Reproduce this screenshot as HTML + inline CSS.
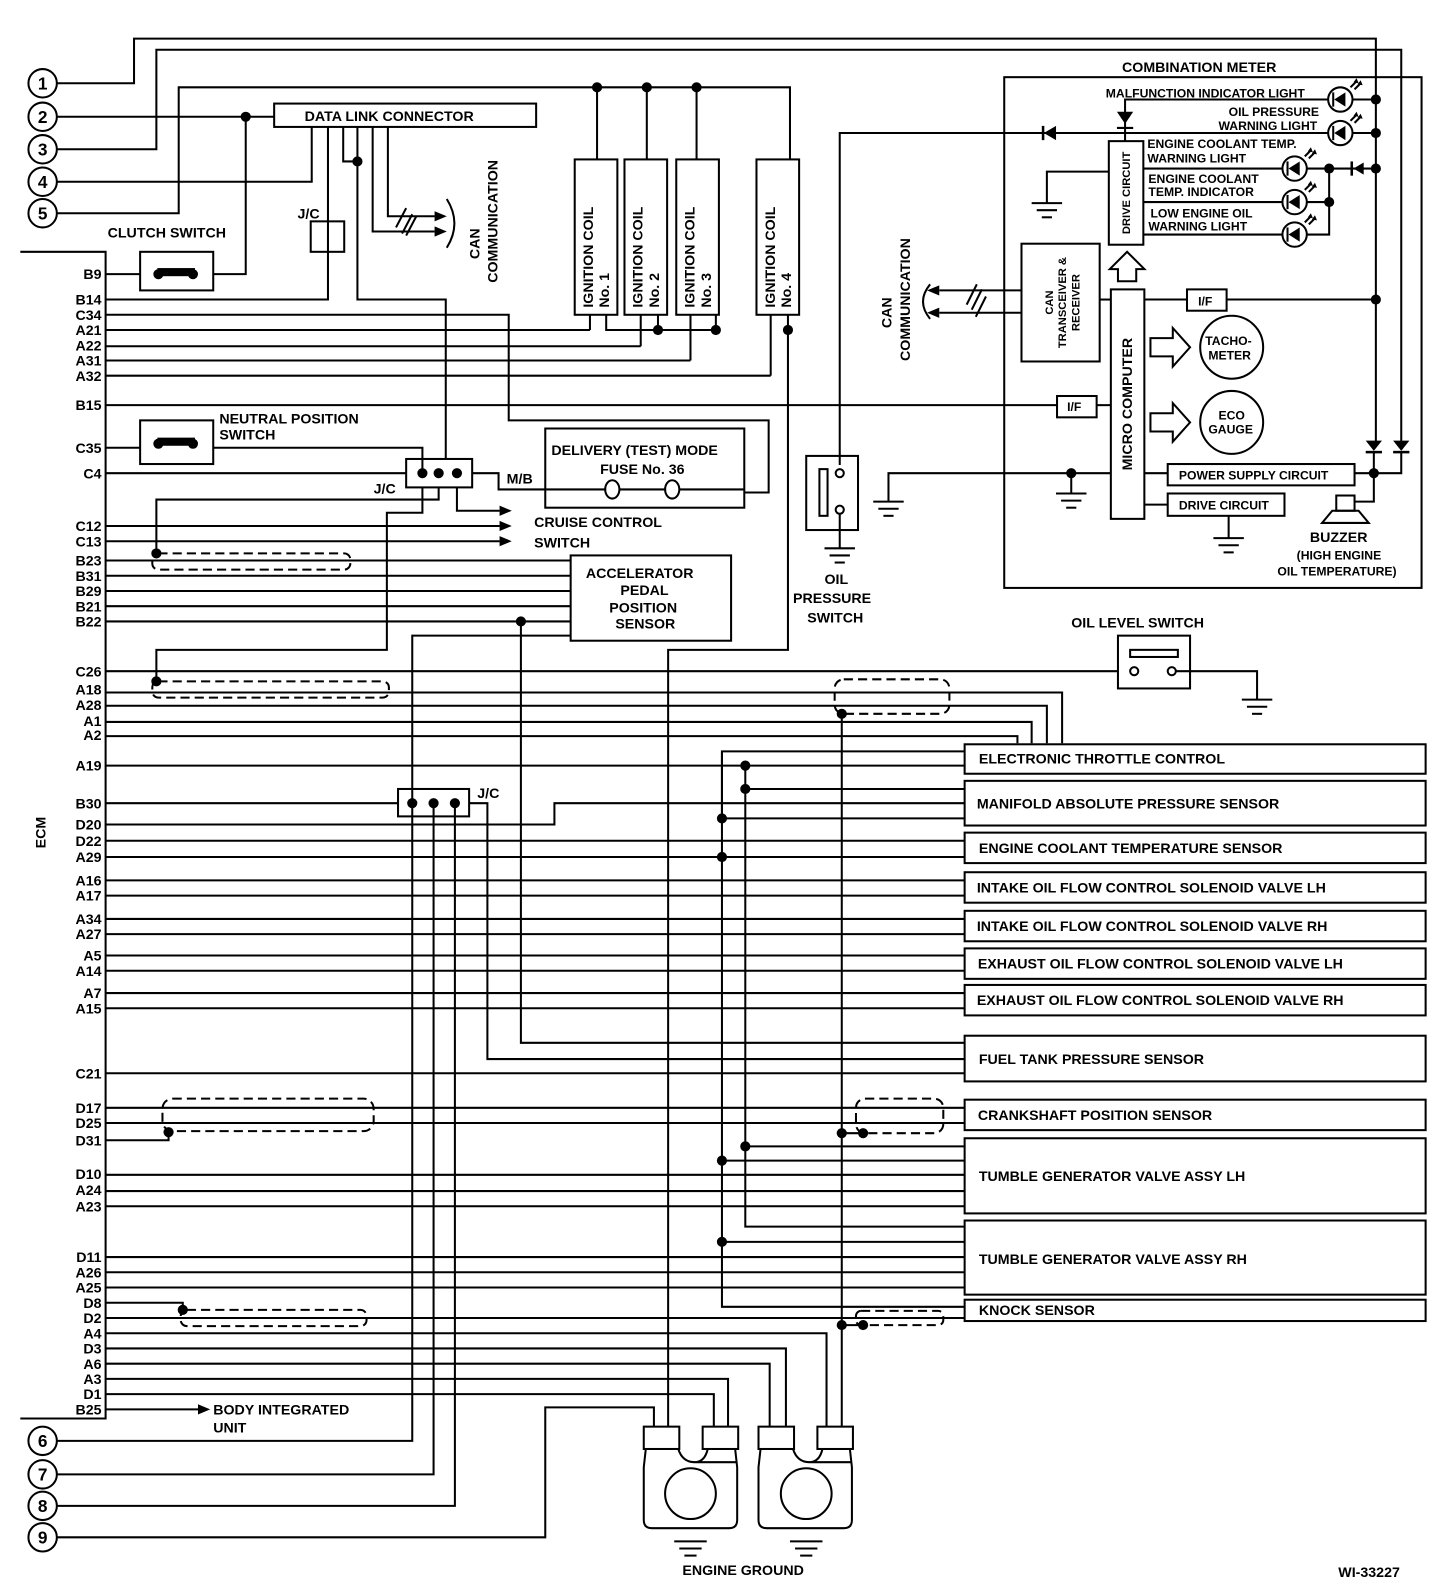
<!DOCTYPE html>
<html><head><meta charset="utf-8"><style>
html,body{margin:0;padding:0;background:#fff}
svg{display:block}
text{font-family:"Liberation Sans",Arial,sans-serif;font-weight:bold;fill:#000}
</style></head><body>
<svg width="1456" height="1592" viewBox="0 0 1456 1592" xmlns="http://www.w3.org/2000/svg">
<defs>
<g id="led">
<circle cx="0" cy="0" r="12" fill="#fff" stroke="#000" stroke-width="2"/>
<polygon points="-6,0 5,-7 5,7" fill="#000"/>
<line x1="-7" y1="-7" x2="-7" y2="7" stroke="#000" stroke-width="2"/>
<path d="M10,-12 L16,-18 M14,-10 L20,-16" stroke="#000" stroke-width="2" fill="none"/>
<polygon points="16,-21 18,-16 13,-17" fill="#000"/><polygon points="20,-19 22,-14 17,-15" fill="#000"/>
</g>
</defs>
<g transform="scale(1.0154)">
<g fill="none" stroke="#000" stroke-width="2">
<!-- top wires -->
<polyline points="56,82 132,82 132,38 1355,38 1355,440"/>
<polyline points="56,115 270,115"/>
<polyline points="242,115 242,270 210,270"/>
<polyline points="56,147 154,147 154,49 1380,49 1380,436"/>
<polyline points="56,179 307,179 307,125"/>
<polyline points="56,210 176,210 176,86 778,86 778,157"/>
<line x1="588" y1="86" x2="588" y2="157"/><line x1="637" y1="86" x2="637" y2="157"/><line x1="686" y1="86" x2="686" y2="157"/>
<!-- DLC -->
<rect x="270" y="102" width="258" height="23"/>
<polyline points="323,125 323,295 104,295"/>
<polyline points="338,125 338,159 352,159"/>
<polyline points="352,125 352,295 439,295 439,452"/>
<polyline points="367,125 367,228 428,228"/>
<polyline points="382,125 382,213 428,213"/>
<path d="M390,224 L400,205 M396,230 L406,211 M400,232 L410,213"/>
<path d="M440,196 Q455,220 440,244"/>
<rect x="306" y="218" width="33" height="30"/>
<!-- ECM -->
<polyline points="20,248 104,248 104,1397 20,1397"/>
<!-- ignition coils -->
<rect x="566" y="157" width="42" height="153"/><rect x="615" y="157" width="42" height="153"/>
<rect x="666" y="157" width="42" height="153"/><rect x="745" y="157" width="42" height="153"/>
<polyline points="581,310 581,325"/><polyline points="597,310 597,325 705,325"/>
<polyline points="631,310 631,341"/><polyline points="648,310 648,325"/>
<polyline points="680,310 680,355"/><polyline points="705,310 705,325"/>
<polyline points="759,310 759,370"/><polyline points="776,310 776,640 658,640 658,1405"/>
<!-- pin lines -->
<line x1="104" y1="270" x2="138" y2="270"/>
<polyline points="104,310 501,310 501,414 757,414 757,485 733,485"/>
<line x1="104" y1="325" x2="581" y2="325"/>
<line x1="104" y1="341" x2="631" y2="341"/>
<line x1="104" y1="355" x2="680" y2="355"/>
<line x1="104" y1="370" x2="759" y2="370"/>
<line x1="104" y1="399" x2="1041" y2="399"/><line x1="1080" y1="399" x2="1094" y2="399"/>
<polyline points="104,441 138,441"/><polyline points="210,441 416,441 416,466"/>
<line x1="104" y1="466" x2="400" y2="466"/>
<polyline points="465,466 491,466 491,482 597,482"/><line x1="610" y1="482" x2="656" y2="482"/><line x1="669" y1="482" x2="733" y2="482"/>
<polyline points="104,518 492,518"/><polyline points="104,533 492,533"/>
<polyline points="154,545 154,492 432,492 432,480"/>
<polyline points="450,480 450,503 492,503"/>
<polyline points="416,480 416,505 381,505 381,640 154,640 154,671"/>
<line x1="104" y1="552" x2="562" y2="552"/><line x1="104" y1="567" x2="562" y2="567"/>
<line x1="104" y1="582" x2="562" y2="582"/><line x1="104" y1="597" x2="562" y2="597"/>
<line x1="104" y1="612" x2="562" y2="612"/>
<polyline points="513,612 513,1027 950,1027"/>
<polyline points="56,1419 406,1419 406,626 562,626"/>
<line x1="104" y1="661" x2="1101" y2="661"/>
<polyline points="104,682 1046,682 1046,732"/>
<polyline points="104,695 1031,695 1031,732"/>
<polyline points="104,711 1016,711 1016,732"/>
<polyline points="104,725 1002,725 1002,732"/>
<line x1="104" y1="754" x2="950" y2="754"/>
<line x1="104" y1="791" x2="392" y2="791"/>
<polyline points="104,812 546,812 546,791 950,791"/>
<line x1="104" y1="828" x2="950" y2="828"/><line x1="104" y1="844" x2="950" y2="844"/>
<line x1="104" y1="867" x2="950" y2="867"/><line x1="104" y1="882" x2="950" y2="882"/>
<line x1="104" y1="905" x2="950" y2="905"/><line x1="104" y1="920" x2="950" y2="920"/>
<line x1="104" y1="941" x2="950" y2="941"/><line x1="104" y1="956" x2="950" y2="956"/>
<line x1="104" y1="978" x2="950" y2="978"/><line x1="104" y1="993" x2="950" y2="993"/>
<polyline points="462,791 480,791 480,1043 950,1043"/>
<line x1="104" y1="1057" x2="950" y2="1057"/>
<line x1="104" y1="1091" x2="950" y2="1091"/><line x1="104" y1="1106" x2="950" y2="1106"/>
<polyline points="104,1123 166,1123 166,1115"/>
<line x1="104" y1="1157" x2="950" y2="1157"/><line x1="104" y1="1173" x2="950" y2="1173"/>
<line x1="104" y1="1188" x2="950" y2="1188"/>
<line x1="104" y1="1238" x2="950" y2="1238"/><line x1="104" y1="1253" x2="950" y2="1253"/>
<line x1="104" y1="1268" x2="950" y2="1268"/>
<polyline points="104,1283 180,1283 180,1290"/>
<line x1="104" y1="1298" x2="950" y2="1298"/>
<polyline points="104,1313 814,1313 814,1405"/>
<polyline points="104,1328 774,1328 774,1405"/>
<polyline points="104,1343 758,1343 758,1405"/>
<polyline points="104,1358 717,1358 717,1405"/>
<polyline points="104,1373 703,1373 703,1405"/>
<line x1="104" y1="1388" x2="195" y2="1388"/>
<polyline points="56,1452 427,1452 427,791"/>
<polyline points="56,1483 448,1483 448,791"/>
<polyline points="56,1514 537,1514 537,1386 644,1386 644,1405"/>
<!-- lower verticals -->
<polyline points="711,806 711,740 950,740"/>
<polyline points="711,740 711,1287 950,1287"/>
<polyline points="734,754 734,1208 950,1208"/>
<line x1="734" y1="777" x2="950" y2="777"/>
<line x1="711" y1="806" x2="950" y2="806"/>
<polyline points="829,703 829,1405"/>
<line x1="829" y1="1116" x2="850" y2="1116"/>
<line x1="829" y1="1305" x2="850" y2="1305"/>
<line x1="734" y1="1129" x2="950" y2="1129"/><line x1="711" y1="1143" x2="950" y2="1143"/>
<line x1="711" y1="1223" x2="950" y2="1223"/>
<!-- switches -->
<rect x="138" y="248" width="72" height="38"/>
<rect x="138" y="414" width="72" height="43"/>
<rect x="400" y="452" width="65" height="28"/>
<rect x="392" y="777" width="70" height="27"/>
<rect x="537" y="422" width="196" height="78"/>
<ellipse cx="603" cy="482" rx="7" ry="9"/><ellipse cx="662" cy="482" rx="7" ry="9"/>
<rect x="562" y="547" width="158" height="84"/>
<!-- shields -->
<g stroke-dasharray="9,5">
<rect x="150" y="545" width="195" height="16" rx="6"/>
<rect x="150" y="671" width="233" height="16" rx="6"/>
<rect x="160" y="1082" width="208" height="32" rx="10"/>
<rect x="178" y="1290" width="183" height="16" rx="6"/>
<rect x="822" y="669" width="113" height="34" rx="9"/>
<rect x="843" y="1082" width="86" height="34" rx="9"/>
<rect x="843" y="1291" width="86" height="14" rx="5"/>
</g>
<!-- oil pressure switch -->
<polyline points="827,458 827,131 1310,131"/>
<rect x="794" y="449" width="51" height="73"/>
<rect x="807" y="462" width="8" height="46"/>
<circle cx="827" cy="466" r="4" fill="#fff"/><circle cx="827" cy="502" r="4" fill="#fff"/>
<line x1="827" y1="506" x2="827" y2="540"/>
<line x1="812" y1="540" x2="842" y2="540"/><line x1="817" y1="547" x2="837" y2="547"/><line x1="822" y1="554" x2="832" y2="554"/>
<polyline points="875,494 875,466 1094,466"/>
<line x1="860" y1="494" x2="890" y2="494"/><line x1="865" y1="501" x2="885" y2="501"/><line x1="870" y1="508" x2="880" y2="508"/>
<!-- oil level switch -->
<rect x="1101" y="626" width="71" height="52"/>
<rect x="1113" y="640" width="47" height="7"/>
<circle cx="1117" cy="661" r="4" fill="#fff"/><circle cx="1154" cy="661" r="4" fill="#fff"/>
<polyline points="1158,661 1238,661 1238,689"/>
<line x1="1223" y1="689" x2="1253" y2="689"/><line x1="1228" y1="696" x2="1248" y2="696"/><line x1="1233" y1="703" x2="1243" y2="703"/>
<!-- combination meter -->
<rect x="989" y="76" width="411" height="503"/>
<rect x="1092" y="139" width="34" height="102"/>
<rect x="1006" y="240" width="77" height="116"/>
<rect x="1094" y="285" width="33" height="226"/>
<rect x="1169" y="285" width="39" height="21"/>
<rect x="1041" y="390" width="39" height="21"/>
<rect x="1150" y="457" width="184" height="21"/>
<rect x="1150" y="486" width="115" height="22"/>
<circle cx="1213" cy="342" r="31"/><circle cx="1213" cy="416" r="31"/>
<polygon points="1133,333 1155,333 1155,323 1172,342 1155,361 1155,351 1133,351"/>
<polygon points="1133,407 1155,407 1155,397 1172,416 1155,435 1155,425 1133,425"/>
<polygon points="1101,277 1101,265 1093,265 1110,248 1127,265 1119,265 1119,277"/>
<line x1="1083" y1="295" x2="1094" y2="295"/>
<polyline points="1127,295 1169,295"/><polyline points="1208,295 1355,295"/>
<polyline points="1127,466 1150,466"/><polyline points="1334,466 1380,466 1380,446"/>
<polyline points="1127,497 1150,497"/>
<polyline points="1334,494 1353,494 1353,446"/>
<polyline points="1210,508 1210,530"/>
<line x1="1195" y1="530" x2="1225" y2="530"/><line x1="1200" y1="537" x2="1220" y2="537"/><line x1="1205" y1="544" x2="1215" y2="544"/>
<polyline points="1055,466 1055,486"/>
<line x1="1040" y1="486" x2="1070" y2="486"/><line x1="1045" y1="493" x2="1065" y2="493"/><line x1="1050" y1="500" x2="1060" y2="500"/>
<polyline points="1092,169 1031,169 1031,200"/>
<line x1="1016" y1="200" x2="1046" y2="200"/><line x1="1021" y1="207" x2="1041" y2="207"/><line x1="1026" y1="214" x2="1036" y2="214"/>
<polyline points="1108,139 1108,98 1308,98"/>
<line x1="1100" y1="126" x2="1116" y2="126"/>
<polyline points="1332,98 1355,98"/><polyline points="1332,131 1355,131"/>
<polyline points="1126,166 1263,166"/><polyline points="1126,199 1263,199"/><polyline points="1126,231 1263,231"/>
<polyline points="1287,166 1355,166"/><polyline points="1287,199 1309,199"/><polyline points="1287,231 1309,231 1309,166"/>
<polyline points="1006,286 925,286"/><polyline points="1006,308 925,308"/>
<path d="M916,280 Q902,297 916,314"/>
<path d="M952,300 L962,280 M957,305 L967,285 M961,312 L971,292"/>
<rect x="1316" y="488" width="18" height="15"/>
<polygon points="1302,515 1348,515 1338,503 1312,503"/>
</g>
<!-- solid shapes -->
<g fill="#000">
<polygon points="428,223 428,233 440,228"/><polygon points="428,208 428,218 440,213"/>
<polygon points="492,513 492,523 504,518"/><polygon points="492,528 492,538 504,533"/><polygon points="492,498 492,508 504,503"/>
<polygon points="195,1383 195,1393 207,1388"/>
<polygon points="925,281 925,291 913,286"/><polygon points="925,303 925,313 913,308"/>
<polygon points="1040,124 1040,138 1028,131"/><rect x="1026" y="124" width="2.5" height="14"/>
<polygon points="1100,110 1116,110 1108,122"/>
<polygon points="1343,160 1343,172 1333,166"/><rect x="1330" y="159" width="2.5" height="14"/>
<polygon points="1345,434 1361,434 1353,444"/><rect x="1345" y="444" width="16" height="2.5"/>
<polygon points="1372,434 1388,434 1380,444"/><rect x="1372" y="444" width="16" height="2.5"/>
<rect x="155" y="264" width="37" height="8"/><rect x="155" y="431" width="37" height="8"/>
</g>
<use href="#led" x="1320" y="98"/><use href="#led" x="1320" y="131"/>
<use href="#led" x="1275" y="166"/><use href="#led" x="1275" y="199"/><use href="#led" x="1275" y="231"/>
<g fill="#000">
<circle cx="242" cy="115" r="5"/><circle cx="352" cy="159" r="5"/>
<circle cx="588" cy="86" r="5"/><circle cx="637" cy="86" r="5"/><circle cx="686" cy="86" r="5"/>
<circle cx="156" cy="270" r="5"/><circle cx="190" cy="270" r="5"/>
<circle cx="156" cy="437" r="5"/><circle cx="190" cy="437" r="5"/>
<circle cx="648" cy="325" r="5"/><circle cx="705" cy="325" r="5"/><circle cx="776" cy="325" r="5"/>
<circle cx="416" cy="466" r="5"/><circle cx="432" cy="466" r="5"/><circle cx="450" cy="466" r="5"/>
<circle cx="154" cy="545" r="5"/><circle cx="154" cy="671" r="5"/><circle cx="513" cy="612" r="5"/>
<circle cx="406" cy="791" r="5"/><circle cx="427" cy="791" r="5"/><circle cx="448" cy="791" r="5"/>
<circle cx="829" cy="703" r="5"/><circle cx="734" cy="754" r="5"/><circle cx="734" cy="777" r="5"/>
<circle cx="711" cy="806" r="5"/><circle cx="711" cy="844" r="5"/><circle cx="829" cy="1116" r="5"/>
<circle cx="850" cy="1116" r="5"/><circle cx="166" cy="1115" r="5"/><circle cx="734" cy="1129" r="5"/>
<circle cx="711" cy="1143" r="5"/><circle cx="711" cy="1223" r="5"/><circle cx="829" cy="1305" r="5"/>
<circle cx="850" cy="1305" r="5"/><circle cx="180" cy="1290" r="5"/>
<circle cx="1055" cy="466" r="5"/><circle cx="1355" cy="295" r="5"/><circle cx="1355" cy="98" r="5"/>
<circle cx="1355" cy="131" r="5"/><circle cx="1355" cy="166" r="5"/><circle cx="1309" cy="166" r="5"/><circle cx="1309" cy="199" r="5"/>
<circle cx="1353" cy="466" r="5"/>
</g>
<!-- engine ground -->
<g fill="none" stroke="#000" stroke-width="2">
<path d="M636,1427 L634,1445 L634,1497 Q634,1505 642,1505 L718,1505 Q726,1505 726,1497 L726,1445 L724,1427"/>
<path d="M749,1427 L747,1445 L747,1497 Q747,1505 755,1505 L831,1505 Q839,1505 839,1497 L839,1445 L837,1427"/>
<path d="M668,1427 Q672,1440 684,1440 L726,1440 M697,1427 Q694,1440 684,1440"/>
<path d="M781,1427 Q785,1440 797,1440 L839,1440 M810,1427 Q807,1440 797,1440"/>
<rect x="634" y="1405" width="35" height="22" fill="#fff"/><rect x="692" y="1405" width="35" height="22" fill="#fff"/>
<rect x="747" y="1405" width="35" height="22" fill="#fff"/><rect x="805" y="1405" width="35" height="22" fill="#fff"/>
<circle cx="680" cy="1471" r="25"/><circle cx="794" cy="1471" r="25"/>
<line x1="664" y1="1518" x2="696" y2="1518"/><line x1="669" y1="1525" x2="691" y2="1525"/><line x1="674" y1="1532" x2="686" y2="1532"/>
<line x1="778" y1="1518" x2="810" y2="1518"/><line x1="783" y1="1525" x2="805" y2="1525"/><line x1="788" y1="1532" x2="800" y2="1532"/>
<!-- right boxes -->
<rect x="950" y="733" width="454" height="29"/>
<rect x="950" y="769" width="454" height="44"/>
<rect x="950" y="820" width="454" height="30"/>
<rect x="950" y="859" width="454" height="30"/>
<rect x="950" y="897" width="454" height="30"/>
<rect x="950" y="934" width="454" height="30"/>
<rect x="950" y="970" width="454" height="30"/>
<rect x="950" y="1020" width="454" height="45"/>
<rect x="950" y="1083" width="454" height="30"/>
<rect x="950" y="1121" width="454" height="74"/>
<rect x="950" y="1202" width="454" height="73"/>
<rect x="950" y="1280" width="454" height="21"/>
<circle cx="42" cy="82" r="14"/><circle cx="42" cy="115" r="14"/><circle cx="42" cy="147" r="14"/>
<circle cx="42" cy="179" r="14"/><circle cx="42" cy="210" r="14"/>
<circle cx="42" cy="1419" r="14"/><circle cx="42" cy="1452" r="14"/><circle cx="42" cy="1483" r="14"/><circle cx="42" cy="1514" r="14"/>
</g>
<!-- text -->
<g font-size="17" text-anchor="middle">
<text x="42" y="88">1</text><text x="42" y="121">2</text><text x="42" y="153">3</text><text x="42" y="185">4</text><text x="42" y="216">5</text>
<text x="42" y="1425">6</text><text x="42" y="1458">7</text><text x="42" y="1489">8</text><text x="42" y="1520">9</text>
</g>
<g font-size="14">
<text x="300" y="119">DATA LINK CONNECTOR</text>
<text x="106" y="234">CLUTCH SWITCH</text>
<text x="293" y="215">J/C</text>
<text x="216" y="417">NEUTRAL POSITION</text><text x="216" y="433">SWITCH</text>
<text x="368" y="486">J/C</text><text x="499" y="476">M/B</text>
<text x="543" y="448">DELIVERY (TEST) MODE</text><text x="591" y="467">FUSE No. 36</text>
<text x="526" y="519">CRUISE CONTROL</text><text x="526" y="539">SWITCH</text>
<text x="577" y="569">ACCELERATOR</text><text x="611" y="586">PEDAL</text><text x="600" y="603">POSITION</text><text x="606" y="619">SENSOR</text>
<text x="470" y="786">J/C</text>
<text x="210" y="1393">BODY INTEGRATED</text><text x="210" y="1411">UNIT</text>
<text x="672" y="1551">ENGINE GROUND</text>
<text x="1318" y="1553" font-weight="normal">WI-33227</text>
<text x="812" y="575">OIL</text><text x="781" y="594">PRESSURE</text><text x="795" y="613">SWITCH</text>
<text x="1055" y="618">OIL LEVEL SWITCH</text>
<text x="1105" y="71">COMBINATION METER</text>
<text x="1290" y="534">BUZZER</text>
<text x="964" y="752">ELECTRONIC THROTTLE CONTROL</text>
<text x="962" y="796">MANIFOLD ABSOLUTE PRESSURE SENSOR</text>
<text x="964" y="840">ENGINE COOLANT TEMPERATURE SENSOR</text>
<text x="962" y="879">INTAKE OIL FLOW CONTROL SOLENOID VALVE LH</text>
<text x="962" y="917">INTAKE OIL FLOW CONTROL SOLENOID VALVE RH</text>
<text x="963" y="954">EXHAUST OIL FLOW CONTROL SOLENOID VALVE LH</text>
<text x="962" y="990">EXHAUST OIL FLOW CONTROL SOLENOID VALVE RH</text>
<text x="964" y="1048">FUEL TANK PRESSURE SENSOR</text>
<text x="963" y="1103">CRANKSHAFT POSITION SENSOR</text>
<text x="964" y="1163">TUMBLE GENERATOR VALVE ASSY LH</text>
<text x="964" y="1245">TUMBLE GENERATOR VALVE ASSY RH</text>
<text x="964" y="1295">KNOCK SENSOR</text>
</g>
<g font-size="12">
<text x="1089" y="96">MALFUNCTION INDICATOR LIGHT</text>
<text x="1210" y="114">OIL PRESSURE</text><text x="1200" y="128">WARNING LIGHT</text>
<text x="1130" y="146">ENGINE COOLANT TEMP.</text><text x="1130" y="160">WARNING LIGHT</text>
<text x="1131" y="180">ENGINE COOLANT</text><text x="1131" y="193">TEMP. INDICATOR</text>
<text x="1133" y="214">LOW ENGINE OIL</text><text x="1131" y="227">WARNING LIGHT</text>
<text x="1161" y="472">POWER SUPPLY CIRCUIT</text>
<text x="1161" y="502">DRIVE CIRCUIT</text>
<text x="1180" y="301">I/F</text><text x="1051" y="405">I/F</text>
<text x="1187" y="340">TACHO-</text><text x="1190" y="354">METER</text>
<text x="1200" y="413">ECO</text><text x="1190" y="427">GAUGE</text>
<text x="1277" y="551">(HIGH ENGINE</text><text x="1258" y="567">OIL TEMPERATURE)</text>
</g>
<g font-size="14" text-anchor="end">
<text x="100" y="275">B9</text><text x="100" y="300">B14</text><text x="100" y="315">C34</text><text x="100" y="330">A21</text>
<text x="100" y="345">A22</text><text x="100" y="360">A31</text><text x="100" y="375">A32</text><text x="100" y="404">B15</text>
<text x="100" y="446">C35</text><text x="100" y="471">C4</text><text x="100" y="523">C12</text><text x="100" y="538">C13</text>
<text x="100" y="557">B23</text><text x="100" y="572">B31</text><text x="100" y="587">B29</text><text x="100" y="602">B21</text>
<text x="100" y="617">B22</text><text x="100" y="666">C26</text><text x="100" y="684">A18</text><text x="100" y="699">A28</text>
<text x="100" y="715">A1</text><text x="100" y="729">A2</text><text x="100" y="759">A19</text><text x="100" y="796">B30</text>
<text x="100" y="817">D20</text><text x="100" y="833">D22</text><text x="100" y="849">A29</text><text x="100" y="872">A16</text>
<text x="100" y="887">A17</text><text x="100" y="910">A34</text><text x="100" y="925">A27</text><text x="100" y="946">A5</text>
<text x="100" y="961">A14</text><text x="100" y="983">A7</text><text x="100" y="998">A15</text><text x="100" y="1062">C21</text>
<text x="100" y="1096">D17</text><text x="100" y="1111">D25</text><text x="100" y="1128">D31</text><text x="100" y="1161">D10</text>
<text x="100" y="1177">A24</text><text x="100" y="1193">A23</text><text x="100" y="1243">D11</text><text x="100" y="1258">A26</text>
<text x="100" y="1273">A25</text><text x="100" y="1288">D8</text><text x="100" y="1303">D2</text><text x="100" y="1318">A4</text>
<text x="100" y="1333">D3</text><text x="100" y="1348">A6</text><text x="100" y="1363">A3</text><text x="100" y="1378">D1</text>
<text x="100" y="1393">B25</text>
</g>
<g font-size="14" text-anchor="middle">
<text transform="translate(45,820) rotate(-90)">ECM</text>
<text transform="translate(472,240) rotate(-90)">CAN</text>
<text transform="translate(490,218) rotate(-90)">COMMUNICATION</text>
<text transform="translate(878,308) rotate(-90)">CAN</text>
<text transform="translate(896,295) rotate(-90)">COMMUNICATION</text>
<text transform="translate(1115,398) rotate(-90)">MICRO COMPUTER</text>
</g>
<g font-size="14">
<text transform="translate(584,303) rotate(-90)">IGNITION COIL</text><text transform="translate(600,303) rotate(-90)">No. 1</text>
<text transform="translate(633,303) rotate(-90)">IGNITION COIL</text><text transform="translate(649,303) rotate(-90)">No. 2</text>
<text transform="translate(684,303) rotate(-90)">IGNITION COIL</text><text transform="translate(700,303) rotate(-90)">No. 3</text>
<text transform="translate(763,303) rotate(-90)">IGNITION COIL</text><text transform="translate(779,303) rotate(-90)">No. 4</text>
</g>
<g font-size="11" text-anchor="middle">
<text transform="translate(1037,298) rotate(-90)">CAN</text>
<text transform="translate(1050,298) rotate(-90)">TRANSCEIVER &amp;</text>
<text transform="translate(1063,298) rotate(-90)">RECEIVER</text>
<text transform="translate(1113,190) rotate(-90)">DRIVE CIRCUIT</text>
</g>
</g>
</svg>
</body></html>
